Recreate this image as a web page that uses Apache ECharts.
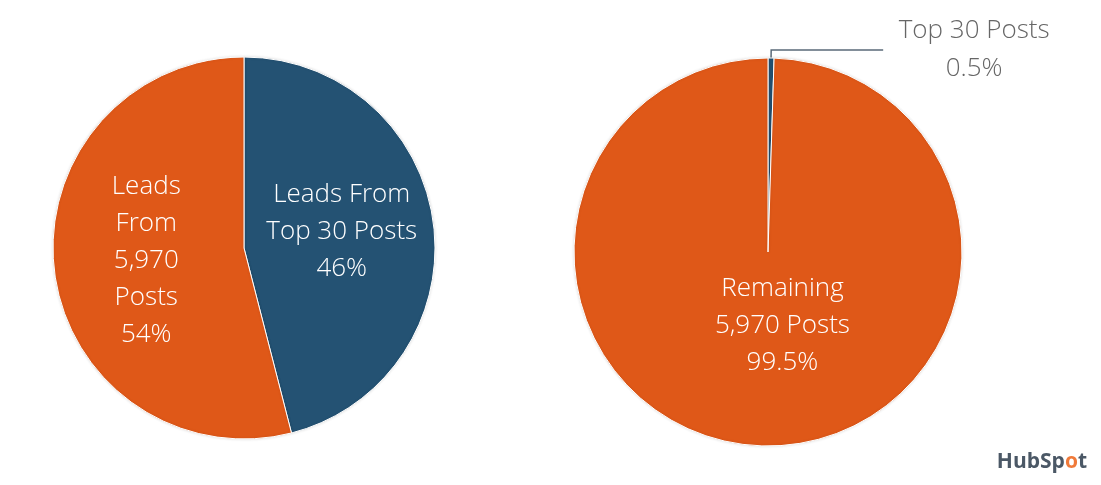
<!DOCTYPE html>
<html>
<head>
<meta charset="utf-8">
<script src="https://cdn.jsdelivr.net/npm/echarts@6/dist/echarts.min.js"></script>
<style>
html, body { margin: 0; padding: 0; background: #fff; }
#chart { width: 1101px; height: 485px; }
</style>
</head>
<body>
<div id="chart"></div>
<script>
// left pie: share of leads
const leftNames = ['Leads From\nTop 30 Posts', 'Leads\nFrom\n5,970\nPosts']
const leftValues = [46, 54]
// right pie: share of posts
const rightNames = ['Top 30 Posts', 'Remaining\n5,970 Posts']
const rightValues = [0.5, 99.5]

const blue = '#245273'
const orange = '#DF5818'
const font = '"Open Sans", Lato, sans-serif'

const chart = echarts.init(document.getElementById('chart'), null, { renderer: 'canvas' })

const baseSeries = {
  type: 'pie',
  startAngle: 90,
  clockwise: true,
  animation: false,
  silent: true,
  itemStyle: {
    borderColor: '#fff',
    borderWidth: 1,
    shadowBlur: 3,
    shadowColor: 'rgba(0,0,0,0.12)'
  },
  label: {
    position: 'inside',
    color: '#fff',
    fontFamily: font,
    fontWeight: 300,
    fontSize: 26,
    lineHeight: 37,
    formatter: '{b}\n{c}%'
  },
  labelLine: { show: false }
}

const leftData = leftValues.map((v, i) => ({
  name: leftNames[i],
  value: v,
  itemStyle: { color: i === 0 ? blue : orange }
}))

const rightData = rightValues.map((v, i) => {
  const item = { name: rightNames[i], value: v, itemStyle: { color: i === 0 ? blue : orange } }
  if (i === 0) {
    item.label = {
      position: 'outside',
      color: '#666',
      formatter: '{t|{b}}\n{t|{c}%}',
      rich: {
        t: { width: 172, align: 'center', fontSize: 26, lineHeight: 38, color: '#666', fontFamily: font, fontWeight: 300 }
      }
    }
    item.labelLine = {
      show: true,
      length: 8,
      length2: 112,
      lineStyle: { color: '#5a6a78', width: 1.5 }
    }
  }
  return item
})

chart.setOption({
  backgroundColor: '#fff',
  title: {
    text: 'HubSp{o|o}t',
    right: 9,
    bottom: 7,
    textStyle: {
      fontFamily: font,
      fontSize: 21,
      fontWeight: 'bold',
      color: '#4b5866',
      rich: {
        o: { fontFamily: font, fontSize: 21, fontWeight: 'bold', color: '#F07A3A' }
      }
    }
  },
  series: [
    Object.assign({}, baseSeries, {
      center: [244, 248],
      radius: 191,
      data: leftData,
      labelLayout: (params) => params.dataIndex === 0 ? { dy: -4 } : {}
    }),
    Object.assign({}, baseSeries, {
      center: [768, 252],
      radius: 194,
      avoidLabelOverlap: false,
      data: rightData,
      labelLayout: (params) => params.dataIndex === 1 ? { dx: 16, dy: -26 } : {}
    })
  ]
})
</script>
</body>
</html>
